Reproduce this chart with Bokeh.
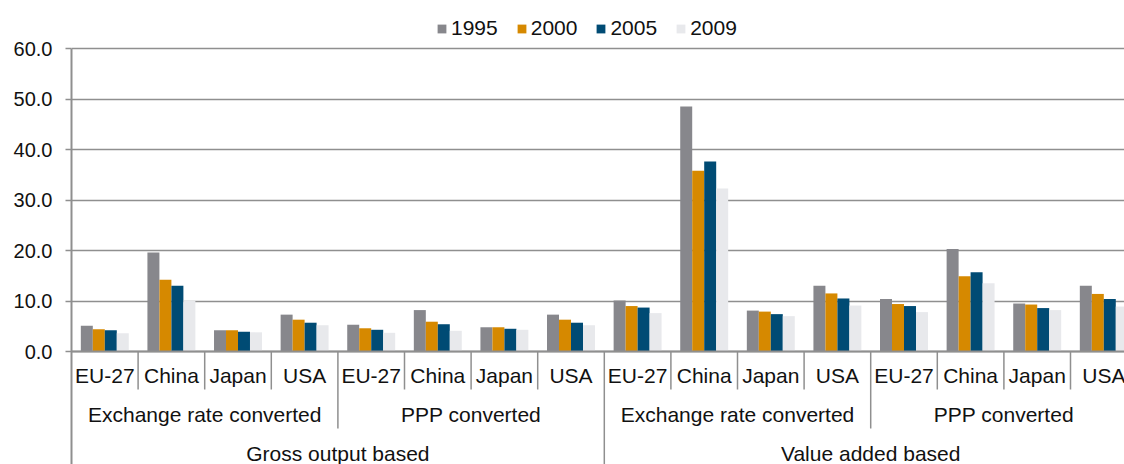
from bokeh.plotting import figure
from bokeh.models import (ColumnDataSource, FixedTicker, PrintfTickFormatter, Legend,
                          LegendItem, Range1d, Span)
from bokeh.transform import dodge
from bokeh.core.properties import value
from bokeh.embed import file_html
from bokeh.resources import INLINE

# ---------------- data ----------------
countries = ["EU-27", "China", "Japan", "USA"]
conversions = ["Exchange rate converted", "PPP converted"]
bases = ["Gross output based", "Value added based"]
years = ["1995", "2000", "2005", "2009"]

v1995 = [5.1, 19.6, 4.2, 7.3,   5.3, 8.2, 4.8, 7.3,
         10.1, 48.5, 8.1, 13.0, 10.4, 20.3, 9.5, 13.0]
v2000 = [4.4, 14.2, 4.2, 6.3,   4.6, 5.9, 4.8, 6.3,
         9.0, 35.8, 7.9, 11.5,  9.4, 14.9, 9.3, 11.4]
v2005 = [4.2, 13.0, 3.9, 5.7,   4.3, 5.4, 4.5, 5.7,
         8.7, 37.6, 7.4, 10.5,  9.0, 15.7, 8.6, 10.4]
v2009 = [3.6, 10.1, 3.8, 5.2,   3.7, 4.1, 4.3, 5.2,
         7.6, 32.3, 7.0, 9.1,   7.8, 13.5, 8.2, 8.9]

yticks = [0, 10, 20, 30, 40, 50, 60]
colors = ["#87878c", "#d68900", "#004b74", "#e8e9ec"]

# ---------------- layout constants ----------------
W, H = 1124, 464
LEFT = 71
frame_w = W - LEFT
group_px = 66.6
baseline_px = 351
unit_px = 5.05
x_end = frame_w / group_px
y_end = baseline_px / unit_px
y_start = -(H - baseline_px) / unit_px
FONT = "Liberation Sans"
GRID = "#8f8f8f"

n_groups = len(bases) * len(conversions) * len(countries)
xc = [i + 0.5 for i in range(n_groups)]

src = ColumnDataSource(dict(x=xc, v1995=v1995, v2000=v2000, v2005=v2005, v2009=v2009))

p = figure(width=W, height=H, x_range=Range1d(0, x_end), y_range=Range1d(y_start, y_end),
           output_backend="svg", toolbar_location=None, x_axis_location=None,
           min_border_left=LEFT, min_border_right=0, min_border_top=0, min_border_bottom=0)
p.outline_line_color = None
p.background_fill_color = "white"
p.border_fill_color = "white"

# y axis
p.yaxis.ticker = FixedTicker(ticks=yticks)
p.yaxis.formatter = PrintfTickFormatter(format="%.1f")
p.yaxis.bounds = (y_start, yticks[-1])
p.yaxis.axis_line_color = GRID
p.yaxis.axis_line_width = 2
p.yaxis.major_tick_line_color = GRID
p.yaxis.major_tick_line_width = 1.5
p.yaxis.major_tick_out = 6
p.yaxis.major_tick_in = 0
p.yaxis.minor_tick_line_color = None
p.yaxis.major_label_standoff = 13
p.yaxis.major_label_text_font = FONT
p.yaxis.major_label_text_font_size = "20px"
p.yaxis.major_label_text_color = "#111111"

p.xgrid.visible = False
p.ygrid.ticker = FixedTicker(ticks=yticks)
p.ygrid.grid_line_color = GRID
p.ygrid.grid_line_width = 1.5

# bars
offsets = [-0.27, -0.09, 0.09, 0.27]
cols = ["v1995", "v2000", "v2005", "v2009"]
items = []
for yr, col, off, c in zip(years, cols, offsets, colors):
    r = p.vbar(x=dodge("x", off, range=p.x_range), top=col, width=0.18, bottom=0,
               source=src, fill_color=c, line_color=None)
    items.append(LegendItem(label=yr, renderers=[r]))

p.add_layout(Span(location=0, dimension="width", line_color=GRID, line_width=2, level="overlay"))

# category labels
lvl1_x = xc
lvl1_t = countries * (len(bases) * len(conversions))
lvl2_x = [len(countries) * g + len(countries) / 2 for g in range(len(bases) * len(conversions))]
lvl2_t = conversions * len(bases)
span3 = len(countries) * len(conversions)
lvl3_x = [span3 * g + span3 / 2 for g in range(len(bases))]
lvl3_t = bases

for xs, ts, off in [(lvl1_x, lvl1_t, 24), (lvl2_x, lvl2_t, 63), (lvl3_x, lvl3_t, 102)]:
    p.text(x=xs, y=[0] * len(xs), text=ts, y_offset=off, text_align="center",
           text_baseline="middle", text_font=value(FONT), text_font_size="21px",
           text_color="#111111")

# separators
sep1 = [i for i in range(n_groups + 1) if i % len(countries) != 0]
sep2 = [i for i in range(0, n_groups + 1, len(countries)) if i % span3 != 0]
sep3 = [i for i in range(span3, n_groups + 1, span3)]
for xs, ln in [(sep1, -38 / unit_px), (sep2, -77 / unit_px), (sep3, y_start)]:
    p.segment(x0=xs, y0=[0] * len(xs), x1=xs, y1=[ln] * len(xs), line_color=GRID, line_width=1.5)

legend = Legend(items=items, orientation="horizontal", location=(365, 424),
                glyph_width=11, glyph_height=11, label_standoff=4, spacing=18,
                padding=0, margin=0, border_line_color=None, background_fill_alpha=0,
                label_text_font=FONT, label_text_font_size="21px", label_height=20,
                label_text_color="#111111")
p.add_layout(legend)

open("out.html", "w").write(file_html(p, INLINE))
